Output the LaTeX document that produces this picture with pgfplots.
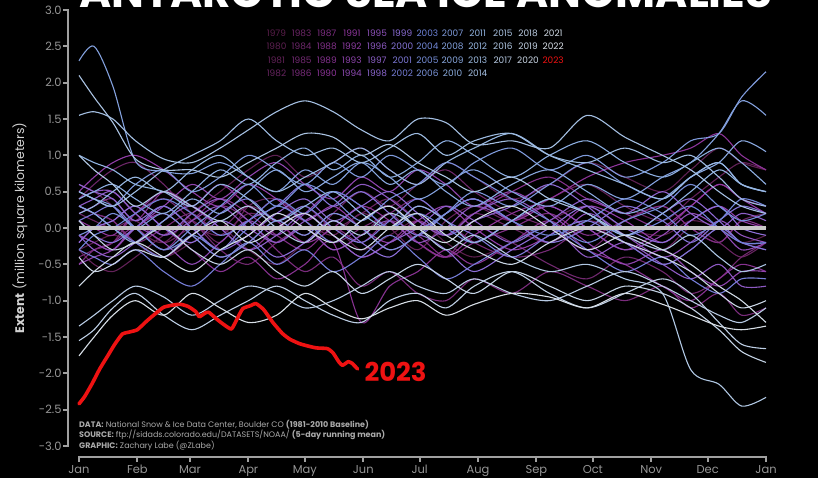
\documentclass[border=0pt]{standalone}
\usepackage{pgfplots}
\pgfplotsset{compat=1.18}
\usepackage{pgfplotstable}
\usepackage{fontspec}
\setmainfont{Poppins}

\definecolor{spinegray}{RGB}{160,160,160}
\definecolor{tickgray}{RGB}{150,150,150}
\definecolor{labgray}{RGB}{210,210,210}
\definecolor{srcgray}{RGB}{170,170,170}
\definecolor{zerogray}{RGB}{200,200,200}
\definecolor{legred}{RGB}{238,18,18}

% anomaly (million km^2), one row per year, columns = day of year
\pgfplotstableread[header=true]{
year 0 8 18 30 45 60 75 90 105 120 135 150 165 180 195 210 230 250 270 290 310 325 340 352 365
y1979 -0.3 -0.2 -0.1 -0.2 -0.4  -0.2 0.0 -0.3 -0.5 -0.2  0.0 -0.3 -0.1 0.1 -0.2  -0.4 -0.2 0.1 0.3 0.0  -0.1 0.1 0.0 -0.2 -0.1
y1980 0.6 0.5 0.3 0.0 -0.2  0.2 0.5 0.8 1.0 0.7  0.9 1.1 0.8 0.6 0.9  0.7 0.4 0.6 0.9 0.7  0.5 0.8 1.1 0.9 0.8
y1981 -0.3 -0.5 -0.6 -0.4 -0.1  0.1 -0.2 0.3 0.4 0.1  -0.1 0.2 0.0 -0.3 0.1  0.3 0.1 0.4 0.6 0.3  0.1 0.4 0.7 0.9 0.8
y1982 0.2 0.1 0.0 0.1 -0.2  0.0 -0.1 0.2 0.1 0.3  0.0 0.2 0.4 0.1 -0.1  0.2 0.0 -0.2 0.1 -0.1  -0.3 0.0 -0.2 -0.4 -0.2
y1983 0.4 0.6 0.8 0.9 0.6  0.2 0.0 0.3 0.1 -0.2  0.2 0.5 0.3 0.6 0.8  0.5 0.2 0.0 -0.3 0.1  0.3 0.0 -0.2 0.1 0.2
y1984 -0.4 -0.3 -0.2 0.2 0.4  0.1 -0.3 -0.5 -0.2 0.0  -0.3 -0.1 0.2 -0.2 -0.4  0.0 -0.2 -0.5 -0.7 -0.4  -0.6 -0.9 -0.7 -0.4 -0.2
y1985 0.3 0.2 0.1 -0.2 0.0  0.2 -0.1 0.1 0.4 0.1  -0.2 0.0 0.2 0.4 0.1  -0.2 -0.4 -0.3 0.0 -0.2  -0.5 -0.3 0.0 -0.2 -0.3
y1986 0.3 0.2 0.1 -0.2 -0.4  -0.1 0.3 0.1 -0.3 -0.6  -0.4 -0.8 -0.6 -0.9 -1.0  -0.7 -0.9 -0.6 -0.8 -1.0  -0.8 -1.1 -0.9 -1.2 -1.1
y1987 -0.5 -0.3 -0.2 0.0 -0.3  0.1 0.4 0.2 -0.1 -0.3  0.0 -0.2 0.1 -0.1 -0.4  -0.2 0.0 0.2 -0.1 0.1  0.3 0.0 -0.2 0.1 0.0
y1988 0.2 0.3 0.4 0.1 0.5  0.3 0.0 -0.3 0.0 0.2  -0.1 -0.4 -0.2 0.1 -0.1  0.2 0.5 0.7 0.4 0.2  0.0 0.3 0.6 0.4 0.3
y1989 -0.2 0.0 0.1 0.3 0.0  -0.3 -0.6 -0.4 -0.7 -0.5  -0.2 -1.3 -0.8 -0.6 -0.3  -0.5 -0.2 0.1 -0.3 -0.5  -0.8 -1.0 -0.7 -0.5 -0.6
y1990 0.1 0.0 -0.1 0.2 0.5  0.3 0.6 0.3 0.1 -0.2  0.0 0.3 0.1 -0.2 -0.4  -0.1 0.2 0.4 0.7 0.9  1.0 1.1 1.3 1.0 0.8
y1991 -0.1 -0.2 -0.3 0.0 0.2  -0.1 -0.4 -0.2 0.1 -0.1  0.2 0.0 -0.3 -0.1 0.2  0.4 0.1 0.3 0.0 -0.3  0.0 0.3 0.6 0.4 0.2
y1992 0.5 0.7 0.9 1.0 0.8  0.5 0.3 0.6 0.4 0.1  0.3 0.0 -0.2 0.1 0.3  0.0 -0.3 -0.1 0.3 0.1  -0.2 0.1 0.3 0.1 0.0
y1993 -0.5 -0.4 -0.3 0.0 0.3  0.6 0.4 0.7 0.9 0.6  0.4 0.7 0.5 0.8 0.6  0.3 0.5 0.2 -0.2 -0.5  -0.3 -0.6 -0.8 -0.6 -0.6
y1994 -0.1 -0.2 -0.3 0.0 -0.2  -0.5 -0.2 0.1 -0.1 0.2  0.5 0.3 0.0 0.3 0.1  -0.2 0.1 0.3 0.0 -0.3  -0.1 0.2 0.0 -0.3 -0.2
y1995 0.4 0.5 0.5 0.2 -0.1  0.1 0.3 0.0 -0.2 0.0  -0.3 -0.1 0.1 -0.2 0.0  0.3 0.1 -0.2 0.2 -0.1  -0.4 -0.2 0.1 -0.1 -0.2
y1996 0.3 0.4 0.5 0.2 -0.1  0.2 0.4 0.1 -0.2 0.1  0.3 0.6 0.4 0.1 -0.1  0.2 0.4 0.1 -0.4 -0.2  -0.5 -0.7 -0.5 -0.8 -0.8
y1997 -0.1 -0.3 -0.4 -0.2 0.1  0.3 0.0 -0.3 -0.1 0.2  -0.1 -0.4 -0.2 0.0 0.3  0.1 -0.2 0.1 0.4 0.2  0.5 0.2 0.0 0.2 0.1
y1998 0.6 0.5 0.4 0.1 0.3  0.0 -0.3 -0.1 0.2 0.4  0.1 0.3 0.5 0.2 -0.1  0.1 0.3 0.6 0.3 -0.1  0.2 0.4 0.1 -0.2 -0.2
y1999 -0.2 0.0 0.1 0.3 0.0  -0.2 0.1 -0.1 -0.4 -0.2  0.1 -0.2 -0.4 -0.1 -0.3  -0.6 -0.3 0.0 0.3 0.0  -0.2 0.1 0.3 0.0 -0.1
y2000 0.1 -0.1 -0.2 0.0 0.3  0.0 -0.3 0.1 0.3 0.6  0.3 0.5 0.2 -0.1 0.2  0.4 0.1 -0.2 0.0 0.3  0.1 -0.2 0.1 0.3 0.2
y2001 0.1 0.2 0.3 0.0 -0.3  -0.1 0.2 0.4 0.1 0.3  0.0 -0.2 0.1 0.4 0.1  -0.1 -0.4 -0.1 0.1 -0.2  -0.5 -0.3 0.0 -0.2 -0.3
y2002 -0.3 -0.4 -0.5 -0.3 -0.6  -0.8 -0.5 -0.2 -0.5 -0.3  -0.6 -0.4 -0.1 -0.4 -0.7  -0.5 -0.2 0.0 -0.3 -0.6  -0.4 -0.7 -0.9 -0.7 -0.7
y2003 -0.3 -0.1 0.0 0.2 0.4  0.2 -0.1 0.1 0.4 0.2  0.5 0.3 0.0 0.2 0.0  -0.2 0.1 0.4 0.2 -0.1  0.1 0.3 0.0 -0.2 -0.2
y2004 0.3 0.2 0.0 -0.2 -0.4  -0.1 -0.3 0.0 0.3 0.1  -0.2 0.1 0.3 0.0 0.2  0.4 0.1 -0.1 0.1 0.4  0.2 -0.1 0.1 0.4 0.3
y2005 -0.1 0.0 0.2 0.0 -0.3  0.0 0.3 0.6 0.3 0.6  0.4 0.1 0.4 0.6 0.9  0.7 0.4 0.1 -0.2 0.1  0.3 0.6 0.3 0.1 0.2
y2006 0.5 0.4 0.3 0.0 0.2  -0.1 -0.4 -0.2 0.1 -0.1  0.2 0.0 -0.3 -0.1 0.2  0.5 0.3 0.6 0.9 0.6  0.4 0.7 0.9 0.6 0.5
y2007 0.5 0.4 0.3 0.6 0.8  0.5 0.7 1.0 0.8 0.6  0.9 0.7 1.0 0.8 0.6  0.9 1.1 0.8 1.0 0.7  0.9 1.2 1.3 1.8 2.15
y2008 2.3 2.5 1.95 0.92 0.78  0.75 0.9 0.7 0.5 0.8  0.6 0.9 0.7 0.4 0.6  0.8 0.5 0.3 0.6 0.4  0.7 0.9 1.3 1.75 1.55
y2009 0.3 0.2 0.0 -0.2 0.1  0.4 0.2 0.5 0.8 0.5  0.7 0.9 0.6 0.8 0.5  0.3 0.6 0.8 0.5 0.2  0.4 0.7 0.9 1.2 1.05
y2010 0.4 0.5 0.6 0.4 0.2  0.5 0.8 0.6 0.9 1.1  0.8 1.0 0.7 0.9 1.2  1.0 0.7 1.0 1.2 0.9  0.7 0.9 1.1 0.9 0.6
y2011 1.0 0.9 0.8 0.6 0.5  0.3 0.6 0.4 0.1 0.3  0.5 0.2 0.0 0.3 0.1  -0.2 0.1 0.4 0.2 -0.1  0.2 0.5 0.8 0.6 0.5
y2012 0.2 0.3 0.5 0.7 0.5  0.8 1.0 0.7 0.5 0.7  0.9 1.1 0.8 0.6 0.9  1.1 1.3 1.0 0.8 0.6  0.4 0.7 0.9 0.6 0.5
y2013 0.5 0.4 0.3 0.5 0.8  1.0 1.2 1.5 1.2 1.0  1.1 0.9 1.1 1.3 1.0  1.2 1.3 1.0 0.9 1.1  0.9 1.0 0.7 0.4 0.3
y2014 1.55 1.6 1.5 1.2 0.95  0.9 1.1 1.35 1.6 1.75  1.6 1.35 1.2 1.5 1.45  1.15 1.2 1.1 1.55 1.25  1.0 0.8 0.5 0.3 0.2
y2015 2.1 1.8 1.45 0.95 0.8  0.8 0.7 0.9 1.1 1.3  1.25 1.0 1.15 0.9 0.7  0.5 0.7 0.4 0.2 -0.1  -0.3 -0.1 -0.4 -0.6 -0.5
y2016 1.0 0.8 0.6 0.3 0.5  0.3 0.1 0.3 0.0 -0.2  0.1 -0.1 0.2 0.0 -0.3  -0.1 -0.4 -0.6 -0.5 -0.7  -0.9 -1.95 -2.15 -2.45 -2.33
y2017 -1.35 -1.2 -1.0 -0.8 -0.95  -1.2 -1.0 -0.8 -0.9 -1.1  -1.0 -0.8 -0.6 -0.8 -0.9  -0.7 -0.9 -1.0 -0.8 -0.6  -0.8 -1.0 -1.2 -1.3 -1.1
y2018 -1.55 -1.4 -1.1 -0.9 -1.2  -1.4 -1.2 -1.0 -0.8 -1.0  -1.2 -1.3 -1.0 -0.9 -1.1  -0.8 -0.6 -0.9 -1.1 -0.9  -0.7 -0.9 -1.3 -1.6 -1.66
y2019 0.1 -0.1 -0.3 -0.2 0.0  -0.3 -0.5 -0.3 -0.6 -0.8  -0.6 -0.9 -0.7 -0.5 -0.7  -0.9 -0.6 -0.8 -1.0 -0.8  -0.9 -1.1 -1.4 -1.7 -1.85
y2020 -0.4 -0.6 -0.5 -0.3 -0.4  -0.1 0.1 -0.2 0.0 0.2  -0.1 -0.3 0.0 0.2 -0.1  -0.3 -0.5 -0.2 0.0 -0.2  -0.4 -0.6 -0.9 -1.1 -1.0
y2021 -0.8 -0.6 -0.4 -0.2 -0.4  -0.6 -0.3 -0.1 0.2 0.0  -0.2 0.1 0.3 0.0 -0.2  0.1 0.3 0.0 -0.3 -0.1  -0.3 -0.5 -0.8 -1.0 -1.3
y2022 -1.76 -1.5 -1.2 -1.0 -1.2  -0.9 -1.1 -1.3 -1.2 -0.9  -1.1 -1.25 -1.1 -1.0 -1.2  -1.05 -0.9 -0.95 -1.1 -0.9  -1.05 -1.2 -1.35 -1.4 -1.35
}\yearsraw
\pgfplotstabletranspose[colnames from=year, input colnames to=day]{\anom}{\yearsraw}

\begin{document}
% one colour per year: dark purple -> violet -> blue -> pale grey-blue
\pgfplotsforeachungrouped \i in {0,...,43}{%
  \pgfmathtruncatemacro\colR{\i<12 ? 90+55*\i/12 : (\i<20 ? 145-5*(\i-12)/8 : (\i<24 ? 140-30*(\i-20)/4 : (\i<32 ? 110+35*(\i-24)/8 : 145+70*(\i-32)/11)))}%
  \pgfmathtruncatemacro\colG{\i<12 ? 30+25*\i/12 : (\i<20 ? 55+55*(\i-12)/8 : (\i<24 ? 110+20*(\i-20)/4 : (\i<32 ? 130+50*(\i-24)/8 : 180+42*(\i-32)/11)))}%
  \pgfmathtruncatemacro\colB{\i<12 ? 75+85*\i/12 : (\i<20 ? 160+55*(\i-12)/8 : (\i<24 ? 215 : (\i<32 ? 215+10*(\i-24)/8 : 225+5*(\i-32)/11)))}%
  \definecolor{yc\i}{RGB}{\colR,\colG,\colB}%
}%
\begin{tikzpicture}
\fill[black] (0,0) rectangle (818bp,478bp);

\begin{axis}[
  at={(79bp,32bp)}, anchor=south west,
  width=687bp, height=436bp, scale only axis,
  xmin=0, xmax=365, ymin=-3, ymax=3,
  clip=false, no markers,
  axis line style={draw=none}, major tick length=0pt,
  xtick={0,31,59,90,120,151,181,212,243,273,304,334,365},
  xticklabels={Jan,Feb,Mar,Apr,May,Jun,Jul,Aug,Sep,Oct,Nov,Dec,Jan},
  ytick={-3,-2.5,-2,-1.5,-1,-0.5,0,0.5,1,1.5,2,2.5,3},
  /pgf/number format/assume math mode=true,
  y tick label style={/pgf/number format/fixed, /pgf/number format/fixed zerofill, /pgf/number format/precision=1},
  tick label style={text=tickgray, font=\fontsize{11.5}{13}\selectfont},
  xticklabel style={yshift=-16bp},
  yticklabel style={xshift=-14bp},
]
\pgfplotsforeachungrouped \i in {0,...,43}{%
  \pgfmathtruncatemacro\yr{1979+\i}%
  \edef\doplot{\noexpand\addplot[draw=yc\i, line width=1.1bp, smooth, tension=0.5] table[x=day, y=y\yr] {\noexpand\anom};}%
  \doplot
}
\addplot[draw=zerogray, line width=3.5bp] coordinates {(0,0) (365,0)};
\addplot[draw=legred, line width=3.6bp, line join=round, line cap=round, smooth, tension=0.3] coordinates {
 (0,-2.42) (3,-2.32) (7,-2.14) (11,-1.94) (15,-1.77) (19,-1.6) (23,-1.46) (27,-1.43) (31,-1.4)
 (36,-1.28) (41,-1.17) (45,-1.09) (50,-1.06) (54,-1.05) (58,-1.08) (62,-1.15) (64,-1.22)
 (67,-1.17) (69,-1.16) (73,-1.25) (77,-1.33) (81,-1.39) (84,-1.25) (87,-1.11) (91,-1.07)
 (94,-1.04) (98,-1.12) (103,-1.3) (108,-1.45) (112,-1.53) (117,-1.59) (121,-1.62) (126,-1.65)
 (132,-1.66) (135,-1.72) (138,-1.84) (140,-1.89) (143,-1.84) (145,-1.86) (148,-1.94)};
\end{axis}

% offset spines
\draw[spinegray, line width=2bp] (68bp,32bp) -- (68bp,468bp);
\foreach \v in {0,...,12}{\draw[spinegray, line width=2bp] (69bp,32bp+\v*36.333bp) -- (63bp,32bp+\v*36.333bp);}
\draw[spinegray, line width=2bp] (79bp,21bp) -- (766bp,21bp);
\foreach \d in {0,31,59,90,120,151,181,212,243,273,304,334,365}{\draw[spinegray, line width=2bp] (79bp+\d*1.88219bp,22bp) -- (79bp+\d*1.88219bp,16bp);}

% texts
\node[anchor=base west, inner sep=0, text=white, font=\bfseries\fontsize{40}{40}\selectfont] at (79bp,470bp) {\resizebox{693bp}{!}{ANTARCTIC SEA ICE ANOMALIES}};
\node[rotate=90, text=labgray, font=\fontsize{12.5}{14}\selectfont] at (20bp,250bp) {\textbf{Extent} (million square kilometers)};
\node[anchor=west, text=legred, font=\bfseries\fontsize{26}{28}\selectfont] at (361bp,106bp) {2023};
\node[anchor=north west, align=left, inner sep=0, text=srcgray, font=\fontsize{8}{7.3}\selectfont] at (79bp,58bp)
 {\textbf{DATA:} National Snow \& Ice Data Center, Boulder CO \textbf{(1981-2010 Baseline)}\\
  \textbf{SOURCE:} ftp://sidads.colorado.edu/DATASETS/NOAA/ \textbf{(5-day running mean)}\\
  \textbf{GRAPHIC:} Zachary Labe (@ZLabe)};

% year key
\foreach \k in {0,...,11}{
  \pgfmathtruncatemacro\nr{\k<9 ? 4 : 3}
  \foreach \rw in {1,...,\nr}{
    \pgfmathtruncatemacro\yr{\k<9 ? 1978+4*\k+\rw : 2014+3*(\k-9)+\rw}
    \pgfmathtruncatemacro\ci{\yr-1979}
    \ifnum\yr=2023 \def\lc{legred}\else \def\lc{yc\ci}\fi
    \node[text=\lc, inner sep=0, font=\fontsize{9}{10}\selectfont] at ({276.5bp+25.15bp*\k},{478bp-33.3bp-13.3bp*(\rw-1)}) {\yr};
  }
}

\pgfresetboundingbox
\path (0,0) rectangle (818bp,478bp);
\end{tikzpicture}
\end{document}
